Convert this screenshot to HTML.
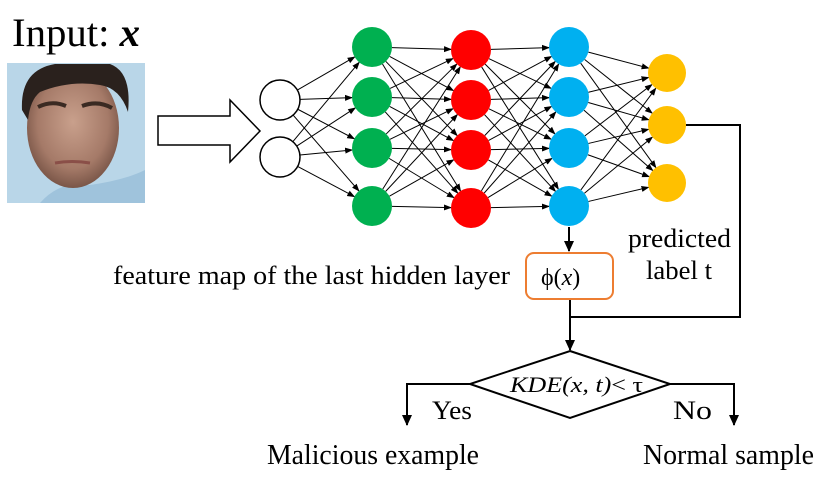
<!DOCTYPE html>
<html><head><meta charset="utf-8"><style>
body{margin:0;background:#fff;}
svg{display:block;font-family:"Liberation Serif",serif;}
</style></head><body>
<svg id="s" width="830" height="479" viewBox="0 0 830 479" xmlns="http://www.w3.org/2000/svg">
<defs>
<marker id="a" markerWidth="8" markerHeight="8" refX="7" refY="4" orient="auto" markerUnits="userSpaceOnUse"><path d="M0,1 L8,4 L0,7 z" fill="#000"/></marker>
<marker id="b" markerWidth="12" markerHeight="12" refX="10" refY="6" orient="auto" markerUnits="userSpaceOnUse"><path d="M0,1 L11,6 L0,11 z" fill="#000"/></marker>
<radialGradient id="sk" cx="50%" cy="45%" r="55%"><stop offset="0" stop-color="#c9a08c"/><stop offset="0.7" stop-color="#a57a68"/><stop offset="1" stop-color="#7a5648"/></radialGradient>
</defs>
<text x="12" y="46" font-size="40" textLength="128" lengthAdjust="spacingAndGlyphs">Input: <tspan font-weight="bold" font-style="italic">x</tspan></text>
<!-- face -->
<rect x="7" y="63" width="138" height="140" fill="#b9d6e8"/>
<path d="M40,203 Q60,180 90,185 Q125,180 145,170 L145,203 z" fill="#9fc3dc"/>
<ellipse cx="73" cy="128" rx="46" ry="60" fill="url(#sk)"/>
<path d="M22,110 Q20,70 55,64 L110,64 Q132,72 128,112 Q120,88 100,85 Q70,80 40,92 Q30,100 28,120 z" fill="#2a211d"/>
<path d="M38,107 Q52,100 66,106 M82,106 Q98,100 112,108" stroke="#3a2a22" stroke-width="4" fill="none"/>
<path d="M55,163 Q72,160 90,163" stroke="#8a4f48" stroke-width="3" fill="none"/>
<!-- big arrow -->
<path d="M158,116 L230,116 L230,100 L260,131 L230,162 L230,145 L158,145 z" fill="#fff" stroke="#000" stroke-width="1.5"/>
<g id="lines" stroke="#000" stroke-width="1" fill="none"></g>
<g id="nodes"></g>
<!-- flow -->
<g stroke="#000" stroke-width="2" fill="none">
<line x1="569" y1="227" x2="569" y2="251" marker-end="url(#b)"/>
<line x1="570" y1="299" x2="570" y2="350" marker-end="url(#b)"/>
<polyline points="686,125 740,125 740,317 570,317"/>
<polygon points="570,351 670,384 570,418 470,384"/>
<polyline points="470,384 407,384 407,425" marker-end="url(#b)"/>
<polyline points="670,384 734,384 734,425" marker-end="url(#b)"/>
</g>
<rect x="526" y="253" width="87" height="46" rx="8" fill="#fff" stroke="#ed7d31" stroke-width="2"/>
<text x="541" y="285" font-size="24">ϕ(<tspan font-style="italic">x</tspan>)</text>
<text x="113" y="284" font-size="26" textLength="397" lengthAdjust="spacingAndGlyphs">feature map of the last hidden layer</text>
<text x="628" y="247" font-size="26" textLength="103" lengthAdjust="spacingAndGlyphs">predicted</text>
<text x="646" y="279" font-size="26" textLength="66" lengthAdjust="spacingAndGlyphs">label t</text>
<text x="510" y="392" font-size="22" font-style="italic" textLength="133" lengthAdjust="spacingAndGlyphs">KDE(x, t)<tspan font-style="normal">&lt; τ</tspan></text>
<text x="432" y="419" font-size="26" textLength="40" lengthAdjust="spacingAndGlyphs">Yes</text>
<text x="673" y="419" font-size="26" textLength="39" lengthAdjust="spacingAndGlyphs">No</text>
<text x="267" y="464" font-size="28" textLength="212" lengthAdjust="spacingAndGlyphs">Malicious example</text>
<text x="643" y="464" font-size="28" textLength="171" lengthAdjust="spacingAndGlyphs">Normal sample</text>
</svg>
<script>
var L=[[[280,100],[280,157]],[[372,47],[372,97],[372,148],[372,206]],[[471,50],[471,100],[471,150],[471,208]],[[569,47],[569,97],[569,148],[569,206]],[[667,73],[667,125],[667,183]]];
var C=[null,"#00b050","#ff0000","#00b0f0","#ffc000"];
var R=[20,20,20,20,19];
var ns="http://www.w3.org/2000/svg",lg=document.getElementById("lines"),ng=document.getElementById("nodes");
for(var i=0;i<L.length-1;i++)for(var a of L[i])for(var b of L[i+1]){
 var dx=b[0]-a[0],dy=b[1]-a[1],d=Math.hypot(dx,dy);
 var l=document.createElementNS(ns,"line");
 l.setAttribute("x1",a[0]+dx/d*R[i]);l.setAttribute("y1",a[1]+dy/d*R[i]);
 l.setAttribute("x2",b[0]-dx/d*R[i+1]);l.setAttribute("y2",b[1]-dy/d*R[i+1]);
 l.setAttribute("marker-end","url(#a)");lg.appendChild(l);}
L.forEach(function(layer,i){layer.forEach(function(p){
 var c=document.createElementNS(ns,"circle");c.setAttribute("cx",p[0]);c.setAttribute("cy",p[1]);c.setAttribute("r",R[i]);
 if(C[i]){c.setAttribute("fill",C[i]);}else{c.setAttribute("fill","#fff");c.setAttribute("stroke","#000");c.setAttribute("stroke-width","1.5");}
 ng.appendChild(c);});});
</script>
</body></html>
